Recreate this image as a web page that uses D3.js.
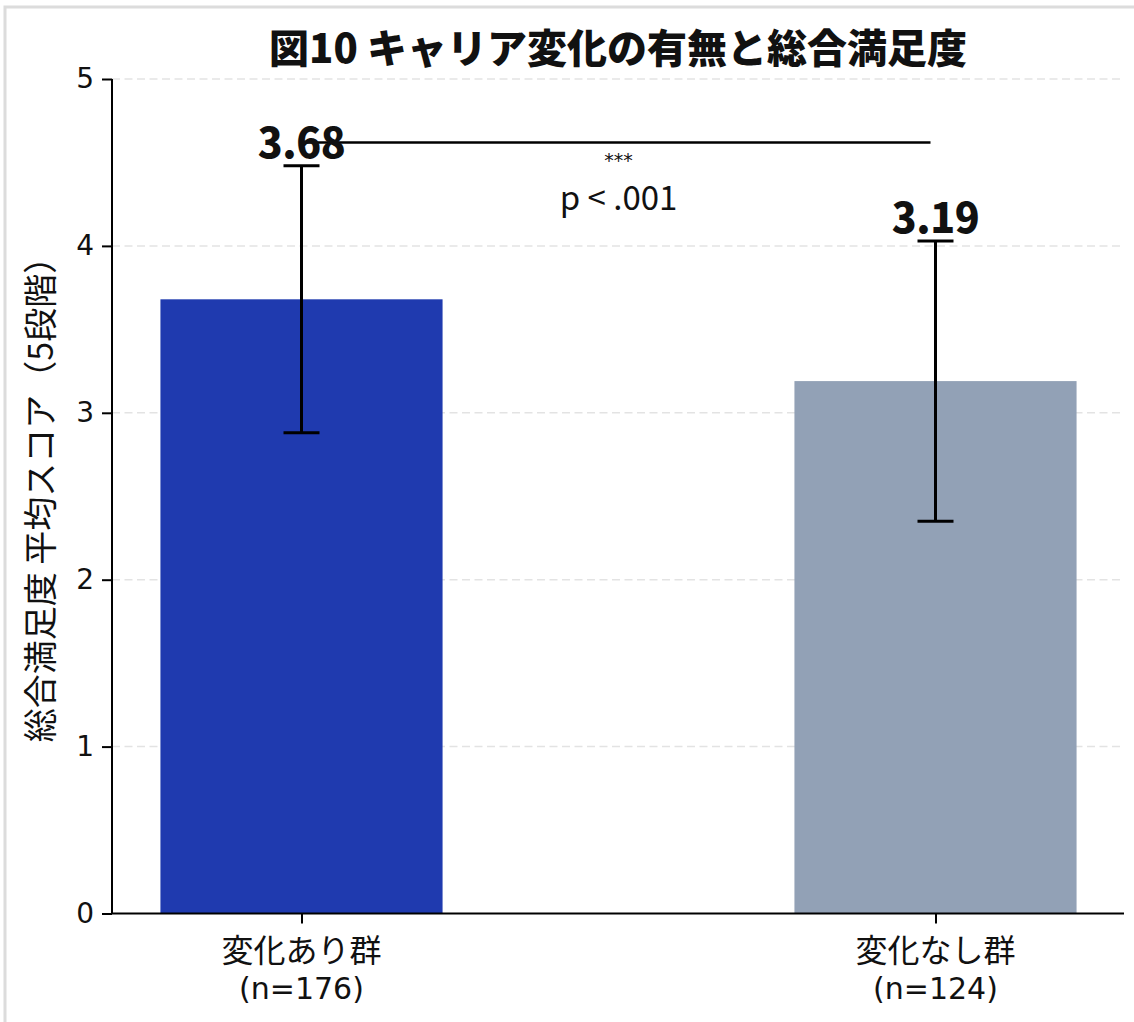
<!DOCTYPE html>
<html lang="ja">
<head>
<meta charset="utf-8">
<script src="https://cdn.jsdelivr.net/npm/d3@7"></script>
<style>
  html, body { margin: 0; padding: 0; background: #ffffff; }
  svg text { fill: #111; }
</style>
</head>
<body>
<svg id="chart" width="1134" height="1022"></svg>
<script>
// Groups, sample sizes and summary statistics (5-point scale)
const groups = ["変化あり群", "変化なし群"];
const sampleSizes = [176, 124];
const means = [3.68, 3.19];
const sds = [0.80, 0.84];
const barColors = ["#1f3aaf", "#92a1b6"];
const yTicks = [0, 1, 2, 3, 4, 5];
const titleText = "図10 キャリア変化の有無と総合満足度";
const yLabelText = "総合満足度 平均スコア（5段階）";
const sigStars = "***";
const sigText = "p < .001";
const sigLevel = 4.62;

const JP = "'Noto Sans CJK JP', 'Noto Sans', sans-serif";
const LATIN = "'DejaVu Sans', sans-serif";

const svg = d3.select("#chart");
const W = 1134, H = 1022;
const plot = { left: 112, right: 1124, top: 79, bottom: 913.5 };

svg.append("rect").attr("width", W).attr("height", H).attr("fill", "#fff");

// card frame along the top and left edges
svg.append("path")
  .attr("d", `M5,${H} V7 H${W}`)
  .attr("fill", "none").attr("stroke", "#dcdcdc").attr("stroke-width", 3);

const x = d3.scaleLinear().domain([-0.3, 1.3]).range([111.3, 1125.7]);
const y = d3.scaleLinear().domain([0, 5]).range([plot.bottom, plot.top]);
const barW = 0.445;

// dashed horizontal grid
svg.append("g").selectAll("line").data(yTicks.filter(t => t > 0)).join("line")
  .attr("x1", plot.left).attr("x2", plot.right)
  .attr("y1", d => y(d)).attr("y2", d => y(d))
  .attr("stroke", "#e3e3e3").attr("stroke-width", 1.5)
  .attr("stroke-dasharray", "8,4.5");

// bars
svg.append("g").selectAll("rect").data(means).join("rect")
  .attr("x", (d, i) => x(i - barW / 2))
  .attr("width", (d, i) => x(i + barW / 2) - x(i - barW / 2))
  .attr("y", d => y(d))
  .attr("height", d => y(0) - y(d))
  .attr("fill", (d, i) => barColors[i]);

// y axis
const yAxis = svg.append("g")
  .attr("transform", `translate(${plot.left},0)`)
  .call(d3.axisLeft(y).tickValues(yTicks).tickFormat(d3.format("d")).tickSize(10).tickPadding(8));
yAxis.select(".domain").attr("stroke", "#000").attr("stroke-width", 2)
  .attr("d", `M0,${plot.top}V${plot.bottom}`);
yAxis.selectAll(".tick line").attr("stroke", "#000").attr("stroke-width", 2);
yAxis.selectAll(".tick text").attr("fill", "#111")
  .style("font-family", LATIN).style("font-size", "28px");

// x axis
const xAxis = svg.append("g")
  .attr("transform", `translate(0,${plot.bottom})`)
  .call(d3.axisBottom(x).tickValues([0, 1]).tickFormat("").tickSize(10));
xAxis.select(".domain").attr("stroke", "#000").attr("stroke-width", 2)
  .attr("d", `M${plot.left},0H${plot.right}`);
xAxis.selectAll(".tick line").attr("stroke", "#000").attr("stroke-width", 2);

// category labels: group name and sample size on separate lines
svg.append("g").selectAll("text").data(groups).join("text")
  .attr("x", (d, i) => x(i)).attr("y", 962)
  .attr("text-anchor", "middle")
  .style("font-family", JP).style("font-size", "32px")
  .text(d => d);
svg.append("g").selectAll("text").data(sampleSizes).join("text")
  .attr("x", (d, i) => x(i)).attr("y", 999)
  .attr("text-anchor", "middle")
  .style("font-family", LATIN).style("font-size", "30px")
  .text(d => `(n=${d})`);

// error bars (±1 SD)
const err = svg.append("g").attr("stroke", "#000").attr("stroke-width", 3);
means.forEach((m, i) => {
  const cx = x(i), capHalf = 18;
  err.append("line").attr("x1", cx).attr("x2", cx).attr("y1", y(m - sds[i])).attr("y2", y(m + sds[i]));
  err.append("line").attr("x1", cx - capHalf).attr("x2", cx + capHalf).attr("y1", y(m + sds[i])).attr("y2", y(m + sds[i]));
  err.append("line").attr("x1", cx - capHalf).attr("x2", cx + capHalf).attr("y1", y(m - sds[i])).attr("y2", y(m - sds[i]));
});

// significance bracket
const sigY = y(sigLevel);
svg.append("line")
  .attr("x1", x(0)).attr("x2", x(1) - 5)
  .attr("y1", sigY).attr("y2", sigY)
  .attr("stroke", "#000").attr("stroke-width", 2.5);

// value labels above the error bars
svg.append("g").selectAll("text").data(means).join("text")
  .attr("x", (d, i) => x(i))
  .attr("y", (d, i) => y(d + sds[i]) - 8)
  .attr("text-anchor", "middle")
  .attr("letter-spacing", -0.5)
  .style("font-family", JP).style("font-size", "41px").style("font-weight", 900)
  .text(d => d.toFixed(2));

const midX = (x(0) + x(1)) / 2;
svg.append("text").attr("x", midX).attr("y", 167).attr("text-anchor", "middle")
  .style("font-family", LATIN).style("font-size", "19px").text(sigStars);
svg.append("text").attr("x", midX).attr("y", 210).attr("text-anchor", "middle")
  .style("font-family", JP).style("font-size", "33px").text(sigText);

// title
svg.append("text").attr("x", (plot.left + plot.right) / 2).attr("y", 63)
  .attr("text-anchor", "middle")
  .style("font-family", JP).style("font-size", "40px").style("font-weight", 900)
  .text(titleText);

// y axis label
svg.append("text")
  .attr("transform", `translate(53,491) rotate(-90)`)
  .attr("text-anchor", "middle")
  .style("font-family", JP).style("font-size", "34px")
  .text(yLabelText);
</script>
</body>
</html>
